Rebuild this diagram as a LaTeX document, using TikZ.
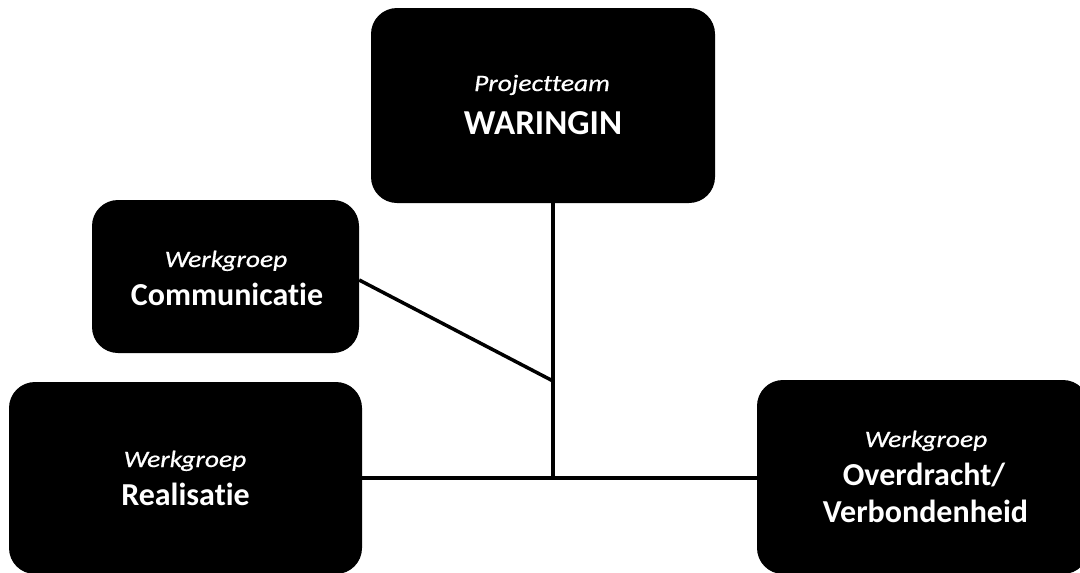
\documentclass[tikz,border=0pt]{standalone}
\usepackage{graphicx}
\usepackage{fontspec}
\setmainfont{Carlito}[Ligatures={NoCommon}]
\newcommand\capt[1]{\scalebox{1.17}[1]{\itshape\addfontfeatures{FakeBold=0.6}\fontsize{23.5}{28}\selectfont #1}}
\begin{document}
\begin{tikzpicture}[x=1pt,y=-1pt,
  box/.style={draw=none,fill=black,rounded corners=26pt,inner sep=0pt},
  lbl/.style={text=white,anchor=base,inner sep=0pt},
  ttl/.style={lbl,font=\bfseries\fontsize{32}{36}\selectfont},
  link/.style={line width=3.5pt}]
\useasboundingbox (0,0) rectangle (1080,573);
% boxes
\node[box,minimum width=344pt,minimum height=195pt] (top) at (543,105.5) {};
\node[box,minimum width=267pt,minimum height=153pt] (comm) at (225.5,276.5) {};
\node[box,minimum width=353pt,minimum height=192pt] (real) at (185.5,478) {};
\node[box,minimum width=332pt,minimum height=194pt] (over) at (923,477) {};
% texts
\node[lbl] (topa) at (542,91) {\capt{Projectteam}};
\node[lbl,font=\bfseries\fontsize{35}{40}\selectfont] (topb) at (543,134) {WARINGIN};
\node[lbl] (comma) at (226,267) {\capt{Werkgroep}};
\node[ttl] (commb) at (227,305) {Communicatie};
\node[lbl] (reala) at (185,467) {\capt{Werkgroep}};
\node[ttl] (realb) at (185.5,505) {Realisatie};
\node[lbl] (overa) at (926,447) {\capt{Werkgroep}};
\node[ttl] (overb) at (924,485) {Overdracht/};
\node[ttl] (overc) at (925.5,522) {Verbondenheid};
% connectors
\coordinate (hub) at (553,478);
\coordinate (mid) at (553,381);
\draw[link] (top.south -| hub) -- (hub);
\draw[link] ([yshift=-3.5pt]comm.east) -- (mid);
\draw[link] (real.east |- hub) -- (over.west |- hub);
\end{tikzpicture}
\end{document}
